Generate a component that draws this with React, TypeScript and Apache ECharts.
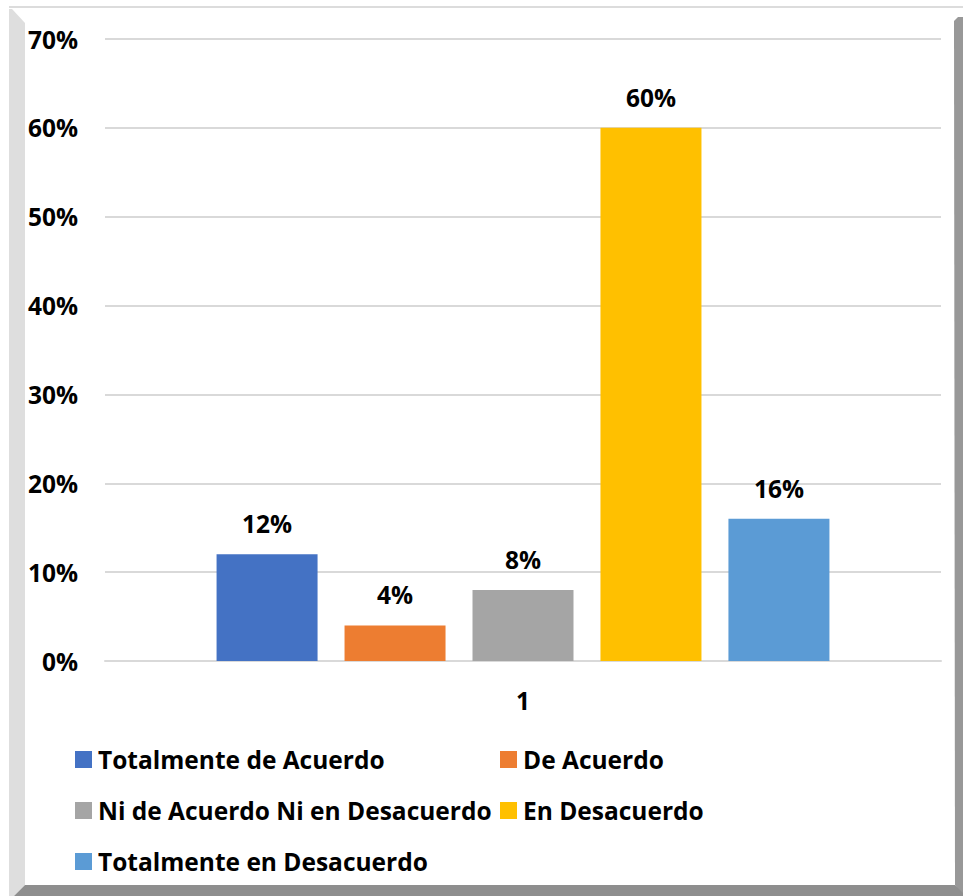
import React, { useEffect, useRef } from "react";
import * as echarts from "echarts";

const categories = ["1"];
const seriesNames = [
  "Totalmente de Acuerdo",
  "De Acuerdo",
  "Ni de Acuerdo Ni en Desacuerdo",
  "En Desacuerdo",
  "Totalmente en Desacuerdo",
];
const seriesValues = [12, 4, 8, 60, 16];
const seriesColors = ["#4472C4", "#ED7D31", "#A5A5A5", "#FFC000", "#5B9BD5"];
const yMin = 0;
const yMax = 70;
const yInterval = 10;

const FONT = "Open Sans";
const FS = 24.5;

export default function App() {
  const ref = useRef<HTMLDivElement>(null);
  useEffect(() => {
    if (!ref.current) return;
    const chart = echarts.init(ref.current, undefined, { renderer: "svg" });
    const legendPos = [
      { left: 75, top: 747 },
      { left: 500, top: 747 },
      { left: 75, top: 798 },
      { left: 500, top: 798 },
      { left: 75, top: 849 },
    ];
    chart.setOption({
      animation: false,
      backgroundColor: "#ffffff",
      grid: { left: 105, right: 22, top: 39, bottom: 235, containLabel: false },
      xAxis: {
        type: "category",
        data: categories,
        axisLine: { show: true, lineStyle: { color: "#d9d9d9", width: 2 } },
        axisTick: { show: false },
        axisLabel: {
          margin: 27,
          fontFamily: FONT,
          fontWeight: "bold",
          fontSize: FS,
          color: "#000",
        },
      },
      yAxis: {
        type: "value",
        min: yMin,
        max: yMax,
        interval: yInterval,
        axisLine: { show: false },
        axisTick: { show: false },
        splitLine: { lineStyle: { color: "#d9d9d9", width: 2 } },
        axisLabel: {
          formatter: "{value}%",
          margin: 27,
          fontFamily: FONT,
          fontWeight: "bold",
          fontSize: FS,
          color: "#000",
        },
      },
      legend: seriesNames.map((n, i) => ({
        data: [n],
        left: legendPos[i].left,
        top: legendPos[i].top,
        padding: 0,
        icon: "rect",
        itemWidth: 17,
        itemHeight: 17,
        selectedMode: false,
        textStyle: {
          fontFamily: FONT,
          fontWeight: "bold",
          fontSize: FS,
          lineHeight: 24,
          color: "#000",
          padding: [0, 0, 0, 1],
        },
      })),
      series: seriesNames.map((n, i) => ({
        name: n,
        type: "bar",
        data: [seriesValues[i]],
        barWidth: 101,
        barGap: "26.7%",
        itemStyle: { color: seriesColors[i] },
        label: {
          show: true,
          position: "top",
          distance: 18,
          formatter: "{c}%",
          fontFamily: FONT,
          fontWeight: "bold",
          fontSize: FS,
          color: "#000",
        },
      })),
      graphic: [
        { type: "rect", shape: { x: 9, y: 6, width: 954, height: 2 }, style: { fill: "#dcdcdc" }, silent: true },
        {
          type: "polygon",
          shape: { points: [[9, 9], [12, 9], [25, 23], [25, 885], [14, 896], [9, 896]] },
          style: { fill: "#dedede" },
          silent: true,
        },
        {
          type: "polygon",
          shape: { points: [[954, 21], [958, 17], [963, 17], [963, 896], [955, 885]] },
          style: { fill: "#989898" },
          silent: true,
        },
        {
          type: "polygon",
          shape: { points: [[14, 896], [25, 885], [955, 885], [963, 893], [963, 896]] },
          style: { fill: "#8e8e8e" },
          silent: true,
        },
      ],
    });
    return () => chart.dispose();
  }, []);
  return (
    <div
      ref={ref}
      style={{ position: "absolute", left: 0, top: 0, width: 963, height: 896 }}
    />
  );
}
